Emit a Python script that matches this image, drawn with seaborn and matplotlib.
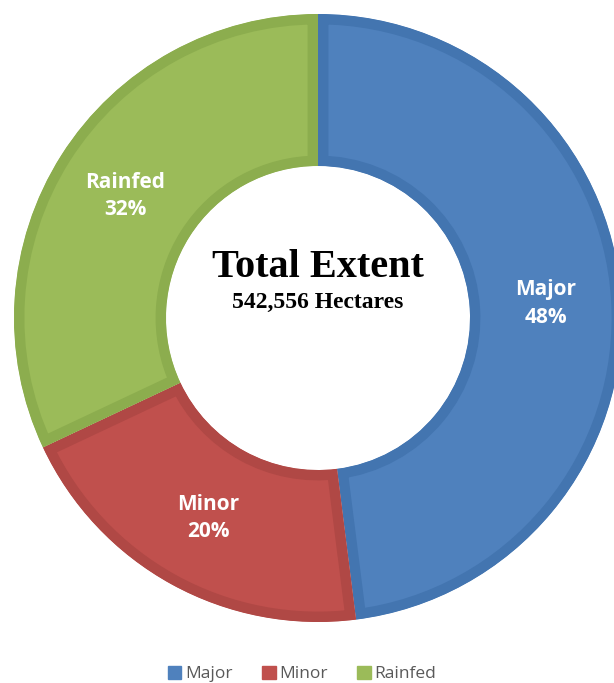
import matplotlib
matplotlib.use('Agg')
import matplotlib.pyplot as plt
import seaborn as sns

sns.set_style('white')
plt.rcParams['font.family'] = ['Open Sans', 'DejaVu Sans']

labels = ['Major', 'Minor', 'Rainfed']
shares = [48, 20, 32]
fills = ['#4F81BD', '#C0504D', '#9BBB59']
edges = ['#4375B0', '#B04845', '#8CAD4E']

fig = plt.figure(figsize=(6.14, 6.83), dpi=100)
ax = fig.add_axes([0, 0, 1, 1])

wedges, texts, autotexts = ax.pie(
    shares, colors=fills, startangle=90, counterclock=False,
    radius=1.0, wedgeprops=dict(width=0.5, linewidth=15),
    autopct=lambda p: f'{p:.0f}%', pctdistance=0.75,
    labels=labels, labeldistance=None)

# border drawn inside each slice only
for w, ec in zip(wedges, edges):
    w.set_edgecolor(ec)
    w.set_clip_on(True)
    w.set_clip_path(w)

for w, lab, t in zip(wedges, labels, autotexts):
    t.set_text(f'{lab}\n{t.get_text()}')
    t.set_color('white')
    t.set_fontweight('bold')
    t.set_fontsize(15)
    t.set_linespacing(1.4)

ax.text(0, 0.165, 'Total Extent', ha='center', va='center', color='black',
        family='Liberation Serif', weight='bold', fontsize=29)
ax.text(0, 0.05, '542,556 Hectares', ha='center', va='center', color='black',
        family='Liberation Serif', weight='bold', fontsize=17)

ax.set_xlim(-318 / 304, (614 - 318) / 304)
ax.set_ylim(-(683 - 318) / 304, 318 / 304)
ax.set_aspect('equal')
ax.axis('off')

handles = [plt.Rectangle((0, 0), 1, 1, color=c) for c in fills]
fig.legend(handles, labels, loc='center', bbox_to_anchor=(0.492, 0.013),
           ncol=3, frameon=False, fontsize=12.5, labelcolor='#595959',
           handlelength=0.8, handleheight=0.8, handletextpad=0.2,
           columnspacing=1.7)

fig.savefig('out.png', dpi=100)
